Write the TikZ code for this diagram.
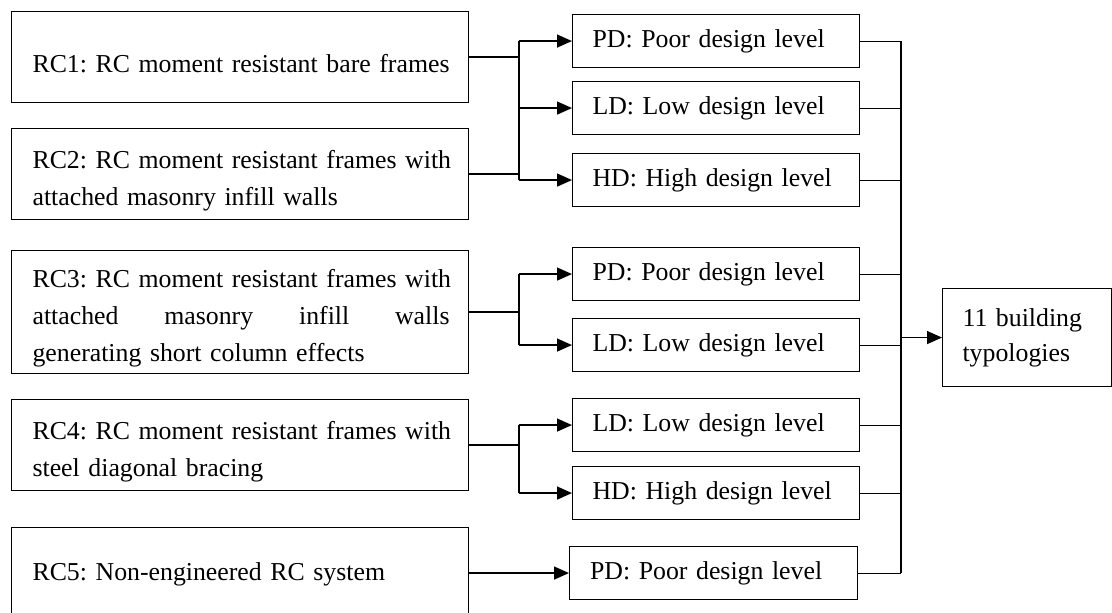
\documentclass[tikz,border=0pt]{standalone}
\usepackage{fontspec}
\setmainfont{Liberation Serif}
\usetikzlibrary{arrows.meta}

% strut that lowers the text block inside the tall system boxes
\newcommand{\lowstrut}[1][31pt]{\rule{0pt}{#1}}

\begin{document}
\begin{tikzpicture}[x=1pt,y=-1pt,
  every node/.style={font=\fontsize{25.8}{37}\selectfont\frenchspacing},
  sysbox/.style={draw, line width=1.1pt, anchor=north west, minimum width=457pt,
    minimum height=91pt, inner xsep=21pt, text width=415pt, align=left},
  lvlbox/.style={draw, line width=1.1pt, anchor=north west, minimum width=287pt,
    minimum height=53pt, inner xsep=20pt, text width=247pt, align=left},
  outbox/.style={draw, line width=1.1pt, anchor=north west, minimum width=169pt,
    minimum height=98pt, inner xsep=20pt, text width=129pt, align=left,
    font=\fontsize{25.8}{35}\selectfont},
  link/.style={line width=1.3pt},
  arr/.style={line width=1.3pt, -{Triangle[length=15pt,width=13pt]}}]

\useasboundingbox (0,0) rectangle (1112,613);

% structural systems
\node[sysbox] (rc1) at (11,11) {\mbox{\lowstrut RC1: RC moment resistant bare frames}};
\node[sysbox] (rc2) at (11,128) {\mbox{\lowstrut RC2: RC moment resistant frames with}\\\mbox{attached masonry infill walls}};
\node[sysbox, minimum height=123pt] (rc3) at (11,250) {\mbox{\lowstrut RC3: RC moment resistant frames with}\\\leavevmode\hbox to 417pt{attached\hfill masonry\hfill infill\hfill walls}\\\mbox{generating short column effects}};
\node[sysbox] (rc4) at (11,399) {\mbox{\lowstrut RC4: RC moment resistant frames with}\\\mbox{steel diagonal bracing}};
\node[sysbox] (rc5) at (11,527) {\mbox{\lowstrut[21pt]RC5: Non-engineered RC system}};

% design levels
\node[lvlbox] (pd1) at (572,14)  {PD: Poor design level};
\node[lvlbox] (ld1) at (572,81)  {LD: Low design level};
\node[lvlbox] (hd1) at (572,153) {HD: High design level};
\node[lvlbox] (pd3) at (572,247) {PD: Poor design level};
\node[lvlbox] (ld3) at (572,318) {LD: Low design level};
\node[lvlbox] (ld4) at (572,398) {LD: Low design level};
\node[lvlbox] (hd4) at (572,466) {HD: High design level};
\node[lvlbox, minimum width=288pt] (pd5) at (569,546) {PD: Poor design level};

% result
\node[outbox] (out) at (942,288) {11 building\\typologies};

% branching points
\coordinate (ja) at (519,0);
\coordinate (bus) at (901,0);

% RC1 and RC2 -> PD, LD, HD
\draw[link] (rc1.east) -- (rc1.east -| ja);
\draw[link] (rc2.east) -- (rc2.east -| ja);
\draw[link] (ja |- pd1.west) -- (ja |- hd1.west);
\draw[arr] (ja |- pd1.west) -- (pd1.west);
\draw[arr] (ja |- ld1.west) -- (ld1.west);
\draw[arr] (ja |- hd1.west) -- (hd1.west);

% RC3 -> PD, LD
\draw[link] (rc3.east) -- (rc3.east -| ja);
\draw[link] (ja |- pd3.west) -- (ja |- ld3.west);
\draw[arr] (ja |- pd3.west) -- (pd3.west);
\draw[arr] (ja |- ld3.west) -- (ld3.west);

% RC4 -> LD, HD
\draw[link] (rc4.east) -- (rc4.east -| ja);
\draw[link] (ja |- ld4.west) -- (ja |- hd4.west);
\draw[arr] (ja |- ld4.west) -- (ld4.west);
\draw[arr] (ja |- hd4.west) -- (hd4.west);

% RC5 -> PD
\draw[arr] (rc5.east |- pd5.west) -- (pd5.west);

% collecting bus
\foreach \n in {pd1,ld1,hd1,pd3,ld3,ld4,hd4,pd5}
  \draw[line width=1.1pt] (\n.east) -- (\n.east -| bus);
\draw[link] (bus |- pd1.east) -- (bus |- pd5.east);
\draw[arr] (bus |- out.west) -- (out.west);

\end{tikzpicture}
\end{document}
